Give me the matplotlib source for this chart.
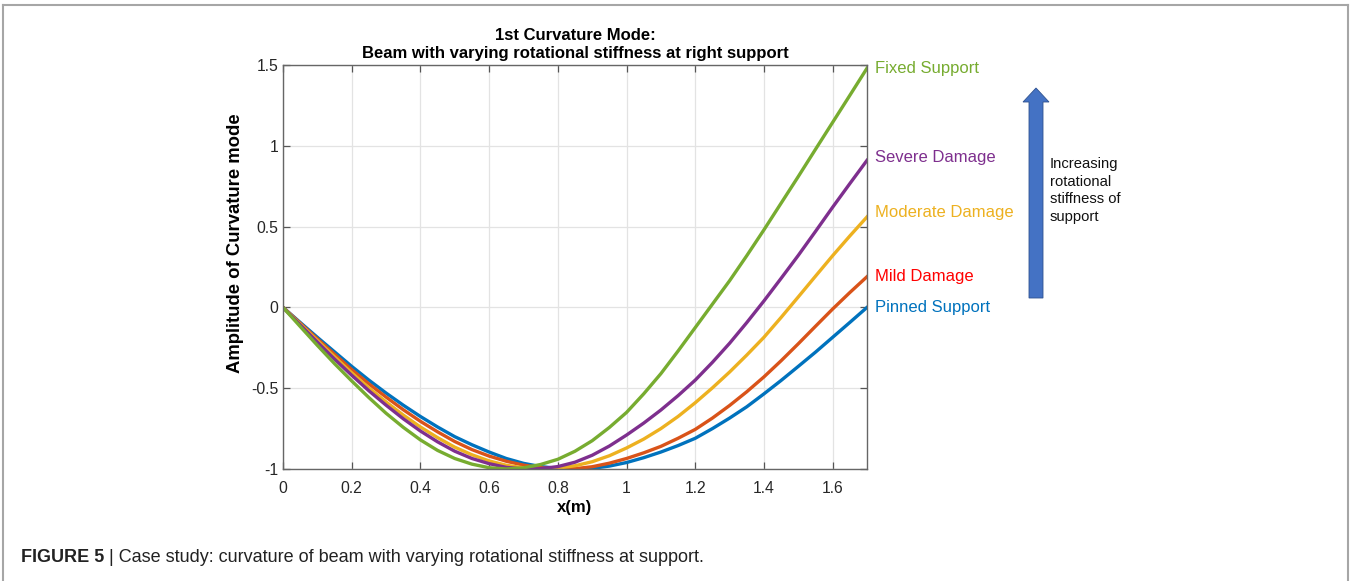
import matplotlib
matplotlib.use("Agg")
import matplotlib.pyplot as plt
from matplotlib.patches import Polygon
from matplotlib.lines import Line2D

plt.rcParams['font.family'] = ['Liberation Sans', 'DejaVu Sans']
plt.rcParams['axes.unicode_minus'] = False

# values
x_m = [0, 0.05, 0.1, 0.15, 0.2, 0.25, 0.3, 0.35, 0.4, 0.45, 0.5, 0.55, 0.6, 0.65,
       0.7, 0.75, 0.8, 0.85, 0.9, 0.95, 1.0, 1.05, 1.1, 1.15, 1.2, 1.25, 1.3, 1.35,
       1.4, 1.45, 1.5, 1.55, 1.6, 1.65, 1.7]
pinned = [0, -0.093, -0.185, -0.275, -0.365, -0.45, -0.53, -0.605, -0.675, -0.74,
          -0.80, -0.85, -0.895, -0.935, -0.965, -0.985, -0.996, -1.0, -0.996, -0.982,
          -0.96, -0.93, -0.895, -0.855, -0.81, -0.75, -0.685, -0.615, -0.535, -0.452,
          -0.365, -0.277, -0.185, -0.093, 0.0]
mild = [0, -0.098, -0.195, -0.29, -0.385, -0.473, -0.555, -0.633, -0.705, -0.77,
        -0.83, -0.88, -0.92, -0.952, -0.976, -0.992, -1.0, -0.998, -0.986, -0.964,
        -0.935, -0.90, -0.86, -0.81, -0.755, -0.685, -0.607, -0.522, -0.43, -0.33,
        -0.225, -0.117, -0.01, 0.092, 0.19]
moderate = [0, -0.103, -0.205, -0.306, -0.405, -0.498, -0.585, -0.666, -0.74, -0.806,
            -0.865, -0.912, -0.95, -0.977, -0.993, -1.0, -0.995, -0.98, -0.955, -0.918,
            -0.87, -0.815, -0.75, -0.675, -0.59, -0.498, -0.40, -0.295, -0.185, -0.062,
            0.065, 0.193, 0.32, 0.442, 0.56]
severe = [0, -0.108, -0.215, -0.32, -0.42, -0.516, -0.605, -0.689, -0.765, -0.832,
          -0.89, -0.935, -0.967, -0.99, -1.0, -0.998, -0.985, -0.958, -0.915, -0.858,
          -0.79, -0.716, -0.635, -0.546, -0.45, -0.34, -0.222, -0.094, 0.04, 0.18,
          0.322, 0.47, 0.62, 0.766, 0.91]
fixed = [0, -0.118, -0.235, -0.348, -0.455, -0.558, -0.655, -0.742, -0.82, -0.885,
         -0.935, -0.97, -0.992, -1.0, -0.993, -0.972, -0.94, -0.89, -0.825, -0.743,
         -0.65, -0.535, -0.41, -0.27, -0.125, 0.02, 0.165, 0.32, 0.48, 0.645,
         0.81, 0.978, 1.145, 1.312, 1.48]

series = [pinned, mild, moderate, severe, fixed]
line_colors = ['#0072BD', '#D95319', '#EDB120', '#7E2F8E', '#77AC30']
names = ['Pinned Support', 'Mild Damage', 'Moderate Damage', 'Severe Damage', 'Fixed Support']
name_colors = ['#0072BD', '#FF0000', '#EDB120', '#7E2F8E', '#77AC30']
name_y = [0.0, 0.19, 0.59, 0.93, 1.48]

xticks = [0, 0.2, 0.4, 0.6, 0.8, 1.0, 1.2, 1.4, 1.6]
xticklabels = ['0', '0.2', '0.4', '0.6', '0.8', '1', '1.2', '1.4', '1.6']
yticks = [-1, -0.5, 0, 0.5, 1, 1.5]
yticklabels = ['-1', '-0.5', '0', '0.5', '1', '1.5']

W, H = 1350, 581
fig = plt.figure(figsize=(W / 100, H / 100), dpi=100)
ax = fig.add_axes([283 / W, 1 - 469 / H, 584 / W, 404 / H])

for ys, c in zip(series, line_colors):
    ax.plot(x_m, ys, color=c, lw=2.4)

ax.set_xlim(0, 1.7)
ax.set_ylim(-1, 1.5)
ax.set_xticks(xticks)
ax.set_xticklabels(xticklabels)
ax.set_yticks(yticks)
ax.set_yticklabels(yticklabels)
ax.grid(True, color='#e3e3e3', lw=0.9)
ax.set_axisbelow(True)
ax.tick_params(direction='in', length=5, width=0.9, color='#555555',
               top=True, right=True, labelsize=11.3, labelcolor='#262626')
ax.tick_params(axis='x', pad=8.5)
ax.tick_params(axis='y', pad=3.5)
for sp in ax.spines.values():
    sp.set_color('#666666')
    sp.set_linewidth(1.0)

ax.set_xlabel('x(m)', fontsize=12, fontweight='bold', va='center')
ax.xaxis.set_label_coords(0.5, -0.0965)
ax.set_ylabel('Amplitude of Curvature mode', fontsize=13.3, fontweight='bold', va='center')
ax.yaxis.set_label_coords(-0.082, 0.559)
ax.set_title('1st Curvature Mode:\nBeam with varying rotational stiffness at right support',
             fontsize=12, fontweight='bold', pad=5, linespacing=1.22)

for n, yy, c in zip(names, name_y, name_colors):
    ax.annotate(n, xy=(1.7, yy), xytext=(6, 0), textcoords='offset points',
                color=c, fontsize=12, va='center', ha='left', annotation_clip=False)


# block arrow
def fx(px):
    return px / W


def fy(py):
    return 1 - py / H


arrow_pts = [(1029, 298), (1043, 298), (1043, 102), (1049, 102), (1036, 88),
             (1023, 102), (1029, 102)]
fig.add_artist(Polygon([(fx(a), fy(b)) for a, b in arrow_pts], closed=True,
                       transform=fig.transFigure, facecolor='#4472C4',
                       edgecolor='#2F528F', lw=0.6))
fig.text(fx(1050), fy(157), 'Increasing\nrotational\nstiffness of\nsupport',
         fontsize=10.6, va='top', ha='left', linespacing=1.32, color='#111111')

# figure frame
frame_c = '#a6a6a6'
fig.add_artist(Line2D([fx(3), fx(1348)], [fy(5), fy(5)], transform=fig.transFigure,
                      color=frame_c, lw=1.5))
fig.add_artist(Line2D([fx(3), fx(3)], [fy(5), 0], transform=fig.transFigure,
                      color=frame_c, lw=1.5))
fig.add_artist(Line2D([fx(1348), fx(1348)], [fy(5), 0], transform=fig.transFigure,
                      color=frame_c, lw=1.5))

# caption
t1 = fig.text(fx(21), fy(557), 'FIGURE 5', fontsize=13, fontweight='bold',
              va='center', ha='left', color='#222222')
ax.annotate(' | Case study: curvature of beam with varying rotational stiffness at support.',
            xy=(1, 0.5), xycoords=t1, va='center', ha='left', fontsize=13,
            color='#222222', annotation_clip=False)

fig.savefig('out.png', dpi=100)
